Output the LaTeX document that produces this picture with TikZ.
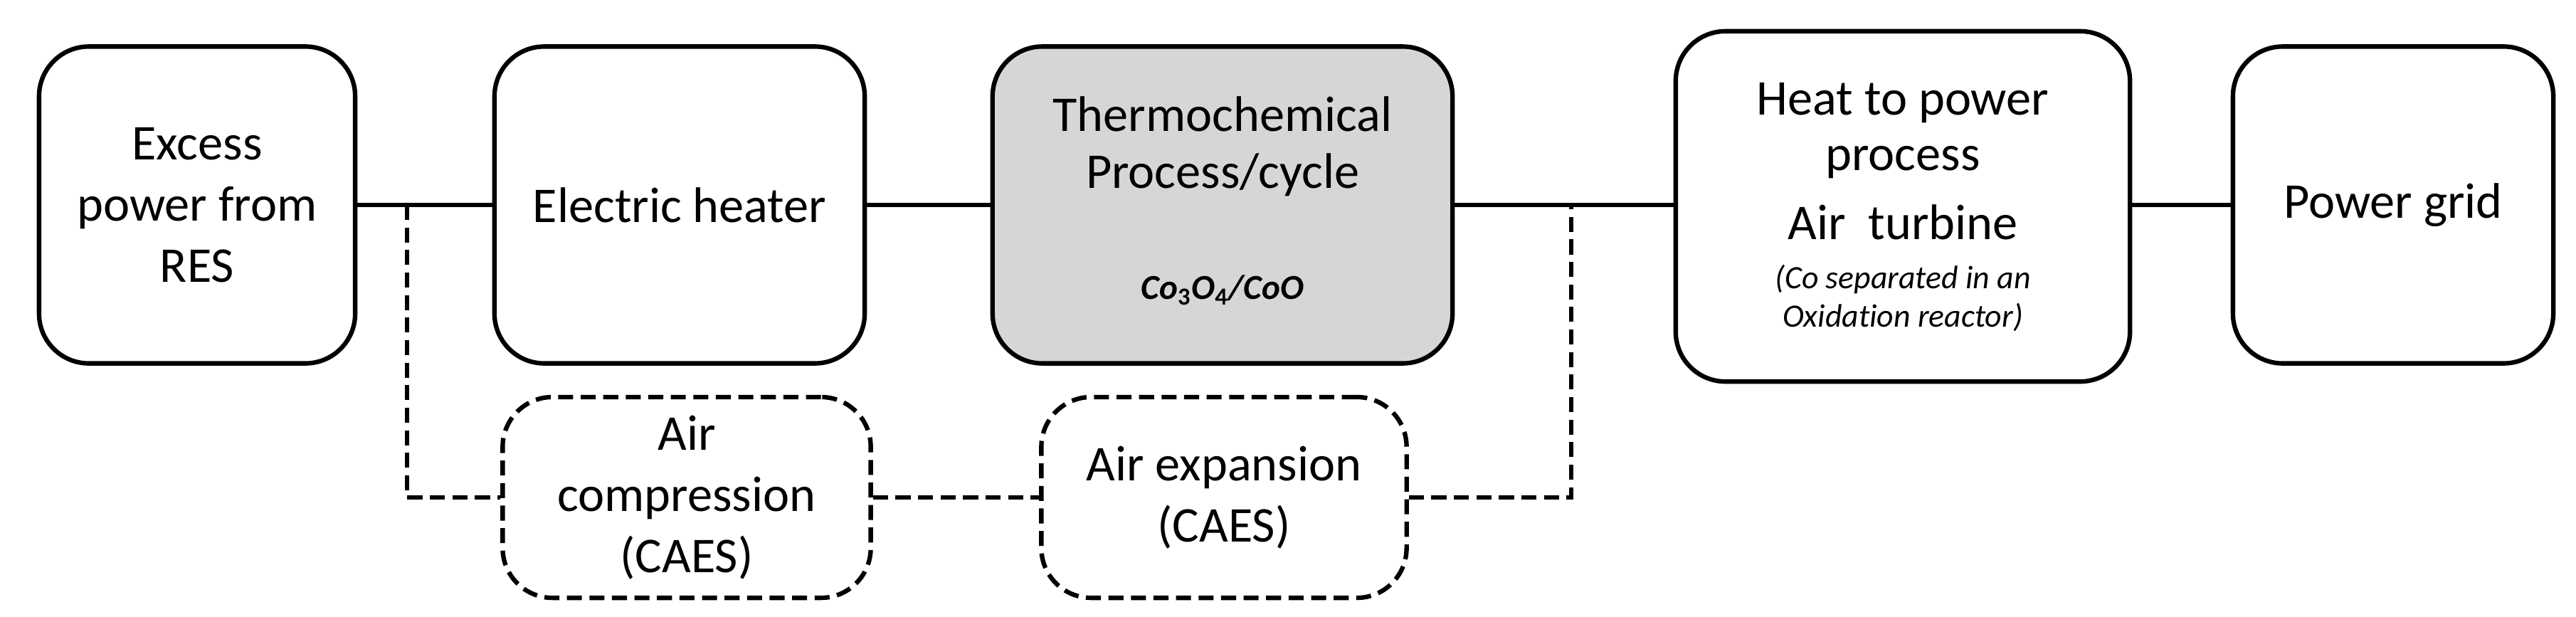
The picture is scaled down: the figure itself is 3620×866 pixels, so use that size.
\documentclass[tikz,border=0pt]{standalone}
\usepackage{fontspec}
\setmainfont{Carlito}[Ligatures=NoCommon]
\begin{document}
\begin{tikzpicture}[x=0.01cm,y=-0.01cm,
 box/.style={draw,line width=1.8pt,rounded corners=0.7cm,align=center,inner sep=0pt,font=\fontsize{20}{24.5}\selectfont},
 dbox/.style={box,dash pattern=on 6pt off 3pt},
 ln/.style={line width=1.8pt},
 dl/.style={line width=1.8pt,dash pattern=on 6pt off 3pt}]
\useasboundingbox (0,0) rectangle (3620,866);
\node[box,minimum width=4.44cm,minimum height=4.45cm] (a) at (277,288) {Excess\\power from\\RES};
\node[box,minimum width=5.2cm,minimum height=4.45cm] (b) at (955,288) {Electric heater};
\node[box,fill=black!16,minimum width=6.46cm,minimum height=4.45cm] (c) at (1718,288) {};
\node at (1718,160) {\fontsize{20}{24.5}\selectfont Thermochemical};
\node at (1718,246) {\fontsize{20}{24.5}\selectfont Process/cycle};
\node at (1718,408) {\fontsize{14}{16}\selectfont\bfseries\itshape Co$_{\mathbf 3}$O$_{\mathbf 4}$/CoO};
\node[box,minimum width=6.38cm,minimum height=4.92cm] (d) at (2674,290) {};
\node at (2674,145) {\fontsize{20}{24.5}\selectfont Heat to power};
\node at (2674,228) {\fontsize{20}{24.5}\selectfont process};
\node at (2674,312) {\fontsize{20}{24.5}\selectfont Air\ \ turbine};
\node at (2674,392) {\fontsize{13}{15.6}\selectfont\itshape (Co separated in an};
\node at (2674,446) {\fontsize{13}{15.6}\selectfont\itshape Oxidation reactor)};
\node[box,minimum width=4.5cm,minimum height=4.45cm] (e) at (3363,288) {Power grid};
\node[dbox,minimum width=5.17cm,minimum height=2.82cm] (f) at (965,699) {Air\\compression\\(CAES)};
\node[dbox,minimum width=5.13cm,minimum height=2.82cm] (g) at (1720,699) {Air expansion\\(CAES)};
\draw[ln] (a.east) -- (b.west);
\draw[ln] (b.east) -- (c.west);
\draw[ln] (c.east) -- (c.east -| d.west);
\draw[ln] (e.west -| d.east) -- (e.west);
\coordinate (p1) at (572,288);
\coordinate (p2) at (2208,288);
\draw[dl] (p1) |- (f.west);
\draw[dl] (f.east) -- (g.west);
\draw[dl] (g.east) -| (p2);
\end{tikzpicture}
\end{document}
